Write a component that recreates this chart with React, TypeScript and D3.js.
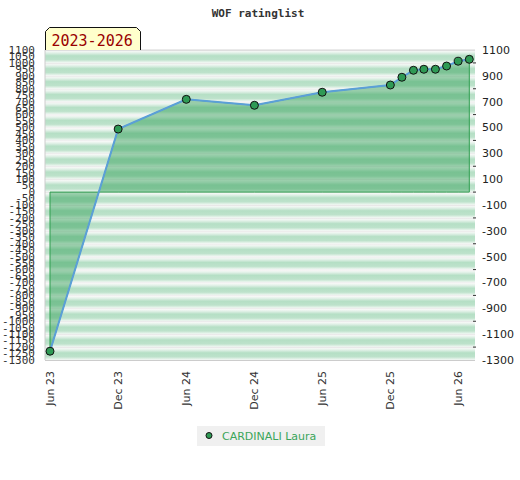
import React from 'react';
import * as d3 from 'd3';

const TITLE = 'WOF ratinglist';
const PERIOD = '2023-2026';
const PLAYER = 'CARDINALI Laura';

const dates = [
  '2023-06-01', '2023-12-01', '2024-06-01', '2024-12-01', '2025-06-01',
  '2025-12-01', '2026-01-01', '2026-02-01', '2026-03-01', '2026-04-01',
  '2026-05-01', '2026-06-01', '2026-07-01',
];
const ratings = [-1232, 488, 718, 672, 773, 829, 889, 943, 951, 951, 976, 1013, 1028];
const xTickDates = ['2023-06-01', '2023-12-01', '2024-06-01', '2024-12-01', '2025-06-01', '2025-12-01', '2026-06-01'];

const leftTicks = d3.range(-1300, 1101, 50);
const rightTicks = d3.range(-1300, 1101, 200);
const rightMinor = d3.range(-1200, 1001, 200);
const bands = d3.range(-1300, 1100, 100);

const W = 520;
const H = 480;
const plot = { left: 45, right: 475, top: 50, bottom: 360 };

export default function App() {
  const parse = d3.utcParse('%Y-%m-%d');
  const points = dates.map((d, i) => ({ date: parse(d) as Date, v: ratings[i] }));
  const xTicks = xTickDates.map(d => parse(d) as Date);

  const x = d3.scaleUtc()
    .domain([points[0].date, points[points.length - 1].date])
    .range([50, 469.3]);
  const y = d3.scaleLinear().domain([-1300, 1100]).range([plot.bottom, plot.top]);

  const fmt = d3.utcFormat('%b %y');

  const area = d3.area<{ date: Date; v: number }>()
    .x(d => x(d.date))
    .y0(y(0))
    .y1(d => y(d.v));
  const line = d3.line<{ date: Date; v: number }>()
    .x(d => x(d.date))
    .y(d => y(d.v));

  const bx = plot.left + 0.5;
  const by = 27.5;
  const bw = 95;

  return (
    <svg width={W} height={H} style={{ position: 'absolute', left: 0, top: 0, background: '#fff' }}>
      <defs>
        <linearGradient id="band" x1="0" y1="0" x2="0" y2="1">
          <stop offset="0" stopColor="#dcd9db" />
          <stop offset="0.08" stopColor="#f6f8f6" />
          <stop offset="0.22" stopColor="#e2f1e8" />
          <stop offset="0.45" stopColor="#b5dfc5" />
          <stop offset="0.75" stopColor="#bde2cb" />
          <stop offset="0.92" stopColor="#e4f2e9" />
          <stop offset="1" stopColor="#f3f6f4" />
        </linearGradient>
      </defs>

      <text x={258} y={16.5} textAnchor="middle" fontFamily="DejaVu Sans Mono" fontWeight="bold" fontSize={11} fill="#333">
        {TITLE}
      </text>

      {/* striped background */}
      {bands.map(b => (
        <rect key={b} x={plot.left} y={y(b + 100)} width={plot.right - plot.left} height={y(b) - y(b + 100)} fill="url(#band)" />
      ))}
      <line x1={plot.left} x2={plot.left} y1={plot.top} y2={plot.bottom} stroke="#cccccc" />
      <line x1={plot.left} x2={plot.right} y1={plot.bottom + 0.5} y2={plot.bottom + 0.5} stroke="#cccccc" />
      <line x1={plot.left} x2={plot.right} y1={plot.top} y2={plot.top} stroke="#d4d4d4" />

      {/* area + line */}
      <path d={area(points) as string} fill="#2e9e55" fillOpacity={0.45} stroke="#2f9e4f" strokeWidth={1} />
      <path d={line(points) as string} fill="none" stroke="#5b9fd8" strokeWidth={2} />
      {points.map((p, i) => (
        <circle key={i} cx={x(p.date)} cy={y(p.v)} r={4} fill="#2f9a55" stroke="#111" strokeWidth={1} />
      ))}

      {/* left axis */}
      {leftTicks.map(t => (
        <text key={t} x={35} y={y(t)} dy="0.35em" textAnchor="end" fontFamily="DejaVu Sans Mono" fontSize={11} fill="#333">
          {t}
        </text>
      ))}

      {/* right axis */}
      {rightMinor.map(t => (
        <line key={t} x1={473} x2={476} y1={y(t)} y2={y(t)} stroke="#333" />
      ))}
      {rightTicks.map(t => (
        <text key={t} x={482} y={y(t)} dy="0.35em" fontFamily="DejaVu Sans" fontSize={11} fill="#222">
          {t}
        </text>
      ))}

      {/* x axis labels */}
      {xTicks.map(t => (
        <text key={+t} transform={`translate(${x(t)},371) rotate(-90)`} dy="0.35em" textAnchor="end"
          fontFamily="DejaVu Sans" fontSize={11} fill="#333">
          {fmt(t)}
        </text>
      ))}

      {/* period tab */}
      <path
        d={`M${bx},${plot.top} L${bx},${by + 4} L${bx + 4},${by} L${bx + bw - 4},${by} L${bx + bw},${by + 4} L${bx + bw},${plot.top}`}
        fill="#ffffcc" stroke="#111" strokeWidth={1}
      />
      <text x={51.5} y={45.5} fontFamily="DejaVu Sans Mono" fontSize={15} fill="#990000">{PERIOD}</text>

      {/* legend */}
      <rect x={197} y={426} width={128} height={20} fill="#f0f0f0" />
      <circle cx={209} cy={435.5} r={3} fill="#2f9a55" stroke="#111" strokeWidth={1} />
      <text x={222} y={439.5} fontFamily="DejaVu Sans" fontSize={11} fill="#3aa55a">{PLAYER}</text>
    </svg>
  );
}
